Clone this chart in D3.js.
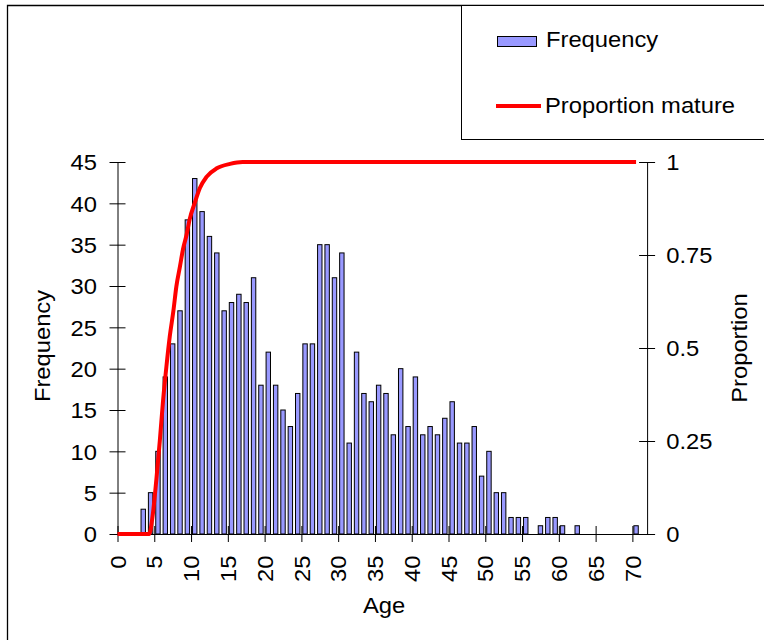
<!DOCTYPE html>
<html>
<head>
<meta charset="utf-8">
<script src="https://cdn.jsdelivr.net/npm/d3@7"></script>
<style>
body { margin: 0; background: #fff; }
text { font-family: Arial, "Liberation Sans", sans-serif; font-size: 22px; fill: #000; }
</style>
</head>
<body>
<script>
// frequency by age, index = age (0..70)
var freq = [0, 0, 0, 3, 5, 10, 19, 23, 27, 38,
            43, 39, 36, 34, 27, 28, 29, 28, 31, 18,
            22, 18, 15, 13, 17, 23, 23, 35, 35, 31,
            34, 11, 22, 17, 16, 18, 17, 12, 20, 13,
            19, 12, 13, 12, 14, 16, 11, 11, 13, 7,
            10, 5, 5, 2, 2, 2, 0, 1, 2, 2,
            1, 0, 1, 0, 0, 0, 0, 0, 0, 0,
            1];

// proportion mature curve
var matureAge  = [0, 4.3, 4.75, 5.3, 5.75, 6.2, 6.65, 7.1, 7.6, 8, 8.5, 8.9, 9.4, 9.8, 10.5, 11.2, 12.1, 13.5, 15.3, 17, 70.5];
var matureProp = [0, 0, 0.045, 0.15, 0.25, 0.36, 0.45, 0.53, 0.6, 0.665, 0.72, 0.765, 0.805, 0.845, 0.89, 0.93, 0.96, 0.983, 0.995, 1, 1];

var xTicks = [0, 5, 10, 15, 20, 25, 30, 35, 40, 45, 50, 55, 60, 65, 70];
var yTicks = [0, 5, 10, 15, 20, 25, 30, 35, 40, 45];
var propTicks = [0, 0.25, 0.5, 0.75, 1];

var width = 764, height = 640;
var plot = { left: 117.5, right: 647.1, top: 162, bottom: 534 };
var stretch = 1.08;   // text in the picture is a bit wider than tall

var svg = d3.select("body").append("svg")
    .attr("width", width)
    .attr("height", height);

var x = d3.scaleLinear().domain([0, 72]).range([plot.left, plot.right]);
var y = d3.scaleLinear().domain([0, 45]).range([plot.bottom, plot.top]);
var yProp = d3.scaleLinear().domain([0, 1]).range([plot.bottom, plot.top]);

// outer frame (top and left edges visible)
svg.append("path")
    .attr("d", "M7.5,640V5.5H764")
    .attr("fill", "none")
    .attr("stroke", "#000")
    .attr("stroke-width", 1.3);

// legend box
svg.append("rect")
    .attr("x", 461.5).attr("y", 5.5)
    .attr("width", 320).attr("height", 134)
    .attr("fill", "#fff")
    .attr("stroke", "#000");

svg.append("rect")
    .attr("x", 497.5).attr("y", 36.5)
    .attr("width", 39).attr("height", 10)
    .attr("fill", "#9999ff")
    .attr("stroke", "#000");
svg.append("text")
    .attr("transform", `translate(546,46.7) scale(${stretch},1)`)
    .text("Frequency");

svg.append("line")
    .attr("x1", 496).attr("x2", 541)
    .attr("y1", 106).attr("y2", 106)
    .attr("stroke", "#ff0000")
    .attr("stroke-width", 4);
svg.append("text")
    .attr("transform", `translate(545,113.3) scale(${stretch},1)`)
    .text("Proportion mature");

// bars
var bars = freq.map(function (v, i) { return { age: i, value: v }; })
    .filter(function (d) { return d.value > 0; });

svg.append("g").selectAll("rect")
    .data(bars)
    .enter().append("rect")
    .attr("x", d => x(d.age + 0.2))
    .attr("width", d => x(d.age + 0.8) - x(d.age + 0.2))
    .attr("y", d => y(d.value))
    .attr("height", d => y(0) - y(d.value))
    .attr("fill", "#9999ff")
    .attr("stroke", "#000")
    .attr("stroke-width", 1);

// axes
svg.append("g")
    .attr("transform", `translate(${plot.left},0)`)
    .call(d3.axisLeft(y).tickValues(yTicks).tickSize(8).tickSizeOuter(0))
    .call(g => g.attr("font-size", null).attr("font-family", null))
    .call(g => g.selectAll(".tick line").attr("x1", 8))
    .call(g => g.selectAll(".tick text")
        .attr("x", null)
        .attr("dy", "0.35em")
        .attr("transform", `translate(-20.5,0) scale(${stretch},1)`));

svg.append("g")
    .attr("transform", `translate(${plot.right},0)`)
    .call(d3.axisRight(yProp).tickValues(propTicks).tickSize(8).tickSizeOuter(0).tickFormat(d3.format("")))
    .call(g => g.attr("font-size", null).attr("font-family", null))
    .call(g => g.selectAll(".tick line").attr("x1", -8))
    .call(g => g.selectAll(".tick text")
        .attr("x", null)
        .attr("dy", "0.35em")
        .attr("transform", `translate(19.2,0) scale(${stretch},1)`));

svg.append("g")
    .attr("transform", `translate(0,${plot.bottom})`)
    .call(d3.axisBottom(x).tickValues(xTicks).tickSize(8).tickSizeOuter(0))
    .call(g => g.attr("font-size", null).attr("font-family", null))
    .call(g => g.selectAll(".tick line").attr("y1", -8))
    .call(g => g.selectAll(".tick text")
        .attr("y", null)
        .attr("dy", "0.35em")
        .attr("text-anchor", "end")
        .attr("transform", `translate(0,21.5) rotate(-90) scale(${stretch},1)`));

// proportion mature line
var matureData = matureAge.map(function (a, i) { return { age: a, value: matureProp[i] }; });

svg.append("path")
    .datum(matureData)
    .attr("fill", "none")
    .attr("stroke", "#ff0000")
    .attr("stroke-width", 4)
    .attr("stroke-linejoin", "round")
    .attr("d", d3.line()
        .curve(d3.curveMonotoneX)
        .x(function (d) { return x(d.age) })
        .y(function (d) { return yProp(d.value) })
    );

// axis titles
svg.append("text")
    .attr("text-anchor", "middle")
    .attr("transform", `translate(50,346) rotate(-90) scale(${stretch},1)`)
    .text("Frequency");

svg.append("text")
    .attr("text-anchor", "middle")
    .attr("transform", `translate(747,348) rotate(-90) scale(${stretch},1)`)
    .text("Proportion");

svg.append("text")
    .attr("text-anchor", "middle")
    .attr("transform", `translate(384,613) scale(${stretch},1)`)
    .text("Age");
</script>
</body>
</html>
